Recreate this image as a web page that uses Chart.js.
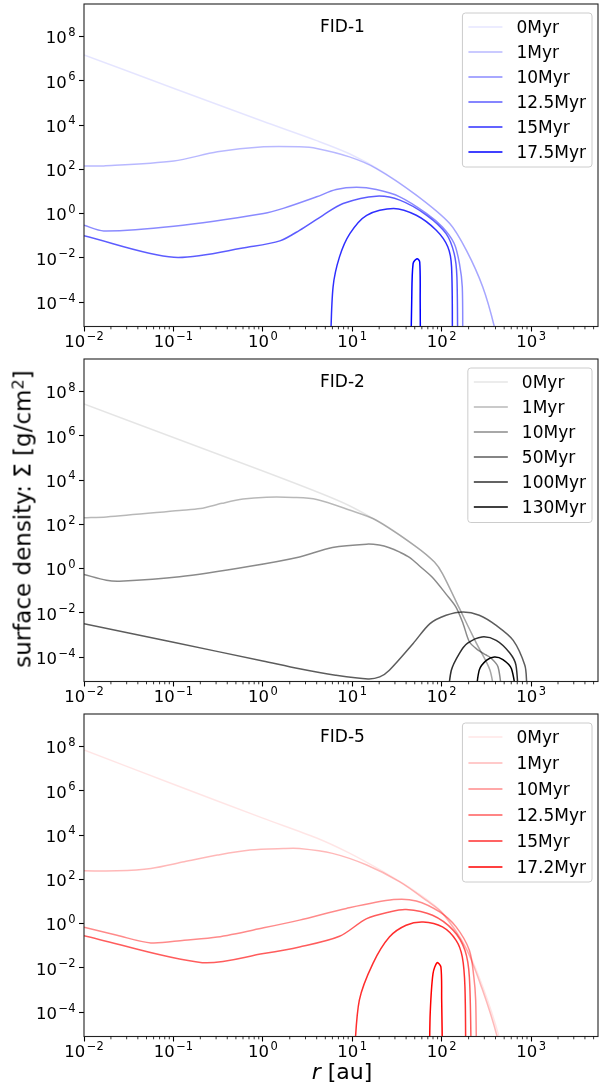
<!DOCTYPE html>
<html>
<head>
<meta charset="utf-8">
<script src="https://cdn.jsdelivr.net/npm/chart.js@4.4.1/dist/chart.umd.min.js"></script>
<style>
  body { margin: 0; background: #fff; }
  #fig { position: relative; width: 599px; height: 1089px; overflow: hidden; font-family: "DejaVu Sans", sans-serif; color: #000; }
  #fig canvas { position: absolute; left: 0; }
  .ylabel { position: absolute; left: 24px; top: 519px; transform: translate(-50%, -50%) rotate(-90deg); font-size: 23px; line-height: 23px; white-space: nowrap; }
  .xlabel { position: absolute; left: 342px; top: 1061px; transform: translateX(-50%); font-size: 22px; line-height: 22px; white-space: nowrap; }
  sup { font-size: 0.7em; vertical-align: 0; position: relative; top: -0.45em; }
</style>
</head>
<body>
<div id="fig">
  <canvas id="fid1" width="599" height="355" style="top:0px"></canvas>
  <canvas id="fid2" width="599" height="355" style="top:355px"></canvas>
  <canvas id="fid5" width="599" height="355" style="top:710px"></canvas>
  <div class="ylabel">surface density: Σ [g/cm<sup>2</sup>]</div>
  <div class="xlabel"><i>r</i> [au]</div>
</div>
<script>
// axis limits and decade exponents used for the labelled ticks
const xMin = 0.01, xMax = 5600;
const yMin = 8e-6, yMax = 3e9;
const xMajor = [-2, -1, 0, 1, 2, 3];
const yMajor = [-4, -2, 0, 2, 4, 6, 8];

// line opacity per snapshot, earliest first
const lineAlpha = [0.1, 0.28, 0.46, 0.64, 0.82, 1.0];

// FID-1: [r (au), sigma (g/cm^2)]
const fid1Labels = ['0Myr', '1Myr', '10Myr', '12.5Myr', '15Myr', '17.5Myr'];
const fid1Myr0 = [[0.01, 1.5e7], [0.1, 4.7e5], [1, 1.5e4], [4.0, 2.0e3], [9.3, 510], [22, 78], [52, 6.9], [123, 0.36], [189, 0.022], [288, 4.9e-4], [389, 7.6e-6], [420, 1e-6]];
const fid1Myr1 = [[0.01, 145], [0.0166, 145], [0.101, 240], [0.31, 630], [1.02, 1050], [2.57, 1050], [4.0, 890], [9.3, 370], [18.6, 110], [52, 6.9], [123, 0.36], [189, 0.022], [288, 4.9e-4], [389, 7.6e-6], [420, 1e-6]];
const fid1Myr10 = [[0.01, 0.30], [0.0166, 0.166], [0.101, 0.27], [1.02, 1.02], [1.69, 1.74], [4.0, 5.8], [6.6, 12.3], [11.2, 15.5], [18.6, 12.3], [34, 5.8], [68, 1.02], [102, 0.25], [138, 0.045], [158, 5.6e-3], [170, 4.9e-4], [172, 1e-6]];
const fid1Myr12 = [[0.01, 0.10], [0.101, 0.0107], [0.716, 0.032], [1.55, 0.059], [2.57, 0.178], [4.7, 0.85], [7.9, 2.9], [18.6, 6.2], [34, 4.1], [68, 0.85], [112, 0.126], [138, 0.0158], [148, 1.4e-3], [151, 1e-6]];
const fid1Myr15 = [[5.7, 1e-6], [6.1, 4.9e-4], [7.2, 0.0112], [9.4, 0.126], [14.5, 0.85], [29, 1.74], [52, 0.85], [87, 0.178], [117, 0.032], [129, 3.9e-3], [132, 1e-6]];
const fid1Myr17 = [[45.4, 1e-6], [46.2, 1e-4], [47.9, 5.6e-3], [53, 9.3e-3], [56.8, 6.6e-3], [57.5, 1e-4], [57.8, 1e-6]];

// FID-2
const fid2Labels = ['0Myr', '1Myr', '10Myr', '50Myr', '100Myr', '130Myr'];
const fid2Myr0 = [[0.01, 2.8e7], [0.1, 8.5e5], [1, 2.6e4], [4.0, 3.0e3], [9.3, 700], [22, 100], [52, 9.8], [83, 2.0], [102, 0.6], [158, 0.016], [245, 4.2e-4], [347, 2.6e-5], [400, 1e-6]];
const fid2Myr1 = [[0.01, 200], [0.0178, 220], [0.117, 430], [0.2, 520], [0.35, 900], [0.6, 1400], [1.1, 1700], [2.2, 1660], [4.0, 1350], [9.3, 450], [18.6, 155], [52, 9.8], [83, 2.0], [102, 0.6], [158, 0.016], [245, 4.2e-4], [347, 2.6e-5], [400, 1e-6]];
const fid2Myr10 = [[0.01, 0.55], [0.0178, 0.30], [0.025, 0.27], [0.117, 0.43], [0.716, 1.29], [2.57, 3.4], [6.0, 9.1], [14.5, 12.9], [20, 11.7], [26, 8.9], [34, 5.6], [44, 3.2], [57, 1.3], [79, 0.4], [112, 0.071], [145, 0.018], [174, 3.2e-3], [204, 5e-4], [245, 2.4e-4], [309, 1.3e-4], [347, 1.0e-4], [427, 3.6e-5], [480, 1e-6]];
const fid2Myr50 = [[0.01, 3.3e-3], [0.1, 4.7e-4], [1, 6.8e-5], [2.57, 3.0e-5], [6.5, 1.55e-5], [15, 1.05e-5], [20.3, 1.3e-5], [26, 2.6e-5], [48, 4.2e-4], [74, 3.3e-3], [112, 7.9e-3], [174, 0.0112], [263, 7.9e-3], [407, 2.75e-3], [631, 5.8e-4], [851, 4.3e-5], [891, 7.6e-6], [910, 1e-6]];
const fid2Myr100 = [[116, 1e-6], [128, 2.5e-5], [158, 1.5e-4], [195, 4.3e-4], [282, 8.3e-4], [407, 5.8e-4], [575, 1.6e-4], [676, 4.5e-5], [724, 1e-6]];
const fid2Myr130 = [[237, 1e-6], [263, 2.6e-5], [316, 7.2e-5], [389, 1.02e-4], [484, 7.8e-5], [603, 3.0e-5], [700, 1e-6]];

// FID-5
const fid5Labels = ['0Myr', '1Myr', '10Myr', '12.5Myr', '15Myr', '17.2Myr'];
const fid5Myr0 = [[0.01, 7.1e7], [0.1, 2.0e6], [1, 5.9e4], [4.0, 7.5e3], [9.3, 1.55e3], [22, 230], [52, 27], [102, 3.2], [186, 0.089], [288, 1.4e-3], [437, 8e-6], [470, 1e-6]];
const fid5Myr1 = [[0.01, 245], [0.0234, 245], [0.056, 316], [0.132, 630], [0.31, 1260], [0.72, 2140], [1.7, 2500], [2.57, 2500], [6.0, 1510], [14.5, 450], [34, 78], [68, 11], [102, 3.0], [186, 0.08], [282, 1.2e-3], [417, 8e-6], [450, 1e-6]];
const fid5Myr10 = [[0.01, 0.69], [0.0234, 0.30], [0.056, 0.135], [0.132, 0.18], [0.31, 0.25], [1.02, 0.65], [2.57, 1.45], [8.6, 4.9], [29, 12.3], [52, 10.7], [95, 3.4], [145, 0.72], [204, 0.063], [229, 3.9e-3], [240, 3.5e-4], [245, 1e-6]];
const fid5Myr12 = [[0.01, 0.29], [0.21, 0.0174], [1.02, 0.045], [2.57, 0.089], [7.2, 0.27], [14.5, 1.7], [26, 3.4], [40, 4.4], [79, 2.4], [135, 0.50], [182, 0.063], [204, 3.9e-3], [214, 1e-6]];
const fid5Myr15 = [[10.5, 1e-6], [12.0, 3.5e-4], [17, 0.0158], [26, 0.25], [40, 0.85], [62, 1.2], [102, 0.72], [145, 0.178], [170, 0.032], [182, 1.4e-3], [186, 1e-6]];
const fid5Myr17 = [[73, 1e-6], [74.5, 1e-4], [80, 5.6e-3], [89, 0.0174], [98, 0.0112], [100, 3.5e-4], [102, 1e-6]];

const FONT = '"DejaVu Sans", sans-serif';

function expText(e) {
  return (e < 0 ? '\u2212' : '') + Math.abs(e);
}

// "10" with a raised exponent, like mathtext
function drawPow(ctx, e, x, base, align) {
  ctx.font = '16.5px ' + FONT;
  const w1 = ctx.measureText('10').width;
  ctx.font = '11.5px ' + FONT;
  const t = expText(e);
  const w2 = ctx.measureText(t).width;
  const total = w1 + 1.5 + w2;
  const x0 = align === 'center' ? x - total / 2 : x - total;
  ctx.font = '16.5px ' + FONT;
  ctx.fillText('10', x0, base);
  ctx.font = '11.5px ' + FONT;
  ctx.fillText(t, x0 + w1 + 1.5, base - 7.3);
}

const axesDecor = {
  id: 'axesDecor',
  afterDraw(chart, args, opts) {
    const { ctx, chartArea: a } = chart;
    const xs = chart.scales.x, ys = chart.scales.y;
    ctx.save();

    // frame
    ctx.strokeStyle = '#222';
    ctx.lineWidth = 1.1;
    ctx.strokeRect(a.left, a.top, a.right - a.left, a.bottom - a.top);

    // minor x ticks
    ctx.lineWidth = 0.8;
    ctx.strokeStyle = '#000';
    ctx.beginPath();
    for (let d = -2; d <= 3; d++) {
      for (let k = 2; k <= 9; k++) {
        const v = k * Math.pow(10, d);
        if (v > xMax) continue;
        const px = xs.getPixelForValue(v);
        ctx.moveTo(px, a.bottom);
        ctx.lineTo(px, a.bottom + 2.8);
      }
    }
    ctx.stroke();

    // tick labels
    ctx.fillStyle = '#000';
    ctx.textAlign = 'left';
    ctx.textBaseline = 'alphabetic';
    xMajor.forEach(e => drawPow(ctx, e, xs.getPixelForValue(Math.pow(10, e)), a.bottom + 20.4, 'center'));
    yMajor.forEach(e => drawPow(ctx, e, 75.5, ys.getPixelForValue(Math.pow(10, e)) + 6.6, 'right'));

    // panel name
    ctx.font = '17px ' + FONT;
    ctx.fillText(opts.title, 320, a.top + 28);

    // legend
    const sets = chart.data.datasets;
    ctx.font = '17px ' + FONT;
    const maxW = Math.max(...sets.map(d => ctx.measureText(d.label).width));
    const right = a.right - 6, top = a.top + 9;
    const left = right - (54 + maxW + 6);
    const bottom = top + 13.5 + (sets.length - 1) * opts.step + 15.5;
    ctx.beginPath();
    ctx.roundRect(left, top, right - left, bottom - top, 3);
    ctx.fillStyle = 'rgba(255,255,255,0.8)';
    ctx.fill();
    ctx.strokeStyle = '#cccccc';
    ctx.lineWidth = 1;
    ctx.stroke();
    sets.forEach((d, i) => {
      const y = Math.round(top + 13.5 + i * opts.step);
      ctx.strokeStyle = d.borderColor;
      ctx.lineWidth = d.borderWidth;
      ctx.beginPath();
      ctx.moveTo(left + 6, y);
      ctx.lineTo(left + 40, y);
      ctx.stroke();
      ctx.fillStyle = '#000';
      ctx.fillText(d.label, left + 54, y + 6);
    });
    ctx.restore();
  }
};

function makePanel(id, title, labels, series, rgb, step) {
  const datasets = series.map((pts, i) => ({
    label: labels[i],
    data: pts.map(([x, y]) => ({ x, y })),
    borderColor: `rgba(${rgb},${lineAlpha[i]})`,
    borderWidth: 1.5,
    pointRadius: 0,
    tension: 0.3,
    fill: false,
    clip: 0,
    order: series.length - i
  }));

  const grid = { drawOnChartArea: false, drawTicks: true, tickLength: 5, tickColor: '#000', tickWidth: 1.1 };

  return new Chart(document.getElementById(id), {
    type: 'line',
    data: { datasets },
    options: {
      responsive: false,
      animation: false,
      devicePixelRatio: 1,
      events: [],
      layout: { padding: { left: 0, right: 1, top: 4, bottom: 0 } },
      scales: {
        x: {
          type: 'logarithmic',
          min: xMin,
          max: xMax,
          grid,
          border: { display: false },
          ticks: { display: false },
          afterBuildTicks: s => { s.ticks = xMajor.map(e => ({ value: Math.pow(10, e) })); },
          afterFit: s => { s.height = 28.5; }
        },
        y: {
          type: 'logarithmic',
          min: yMin,
          max: yMax,
          grid,
          border: { display: false },
          ticks: { display: false },
          afterBuildTicks: s => { s.ticks = yMajor.map(e => ({ value: Math.pow(10, e) })); },
          afterFit: s => { s.width = 84; }
        }
      },
      plugins: {
        legend: { display: false },
        tooltip: { enabled: false },
        axesDecor: { title, step }
      }
    },
    plugins: [axesDecor]
  });
}

makePanel('fid1', 'FID-1', fid1Labels,
  [fid1Myr0, fid1Myr1, fid1Myr10, fid1Myr12, fid1Myr15, fid1Myr17], '0,0,255', 25);
makePanel('fid2', 'FID-2', fid2Labels,
  [fid2Myr0, fid2Myr1, fid2Myr10, fid2Myr50, fid2Myr100, fid2Myr130], '0,0,0', 25.1);
makePanel('fid5', 'FID-5', fid5Labels,
  [fid5Myr0, fid5Myr1, fid5Myr10, fid5Myr12, fid5Myr15, fid5Myr17], '255,0,0', 26);
</script>
</body>
</html>
